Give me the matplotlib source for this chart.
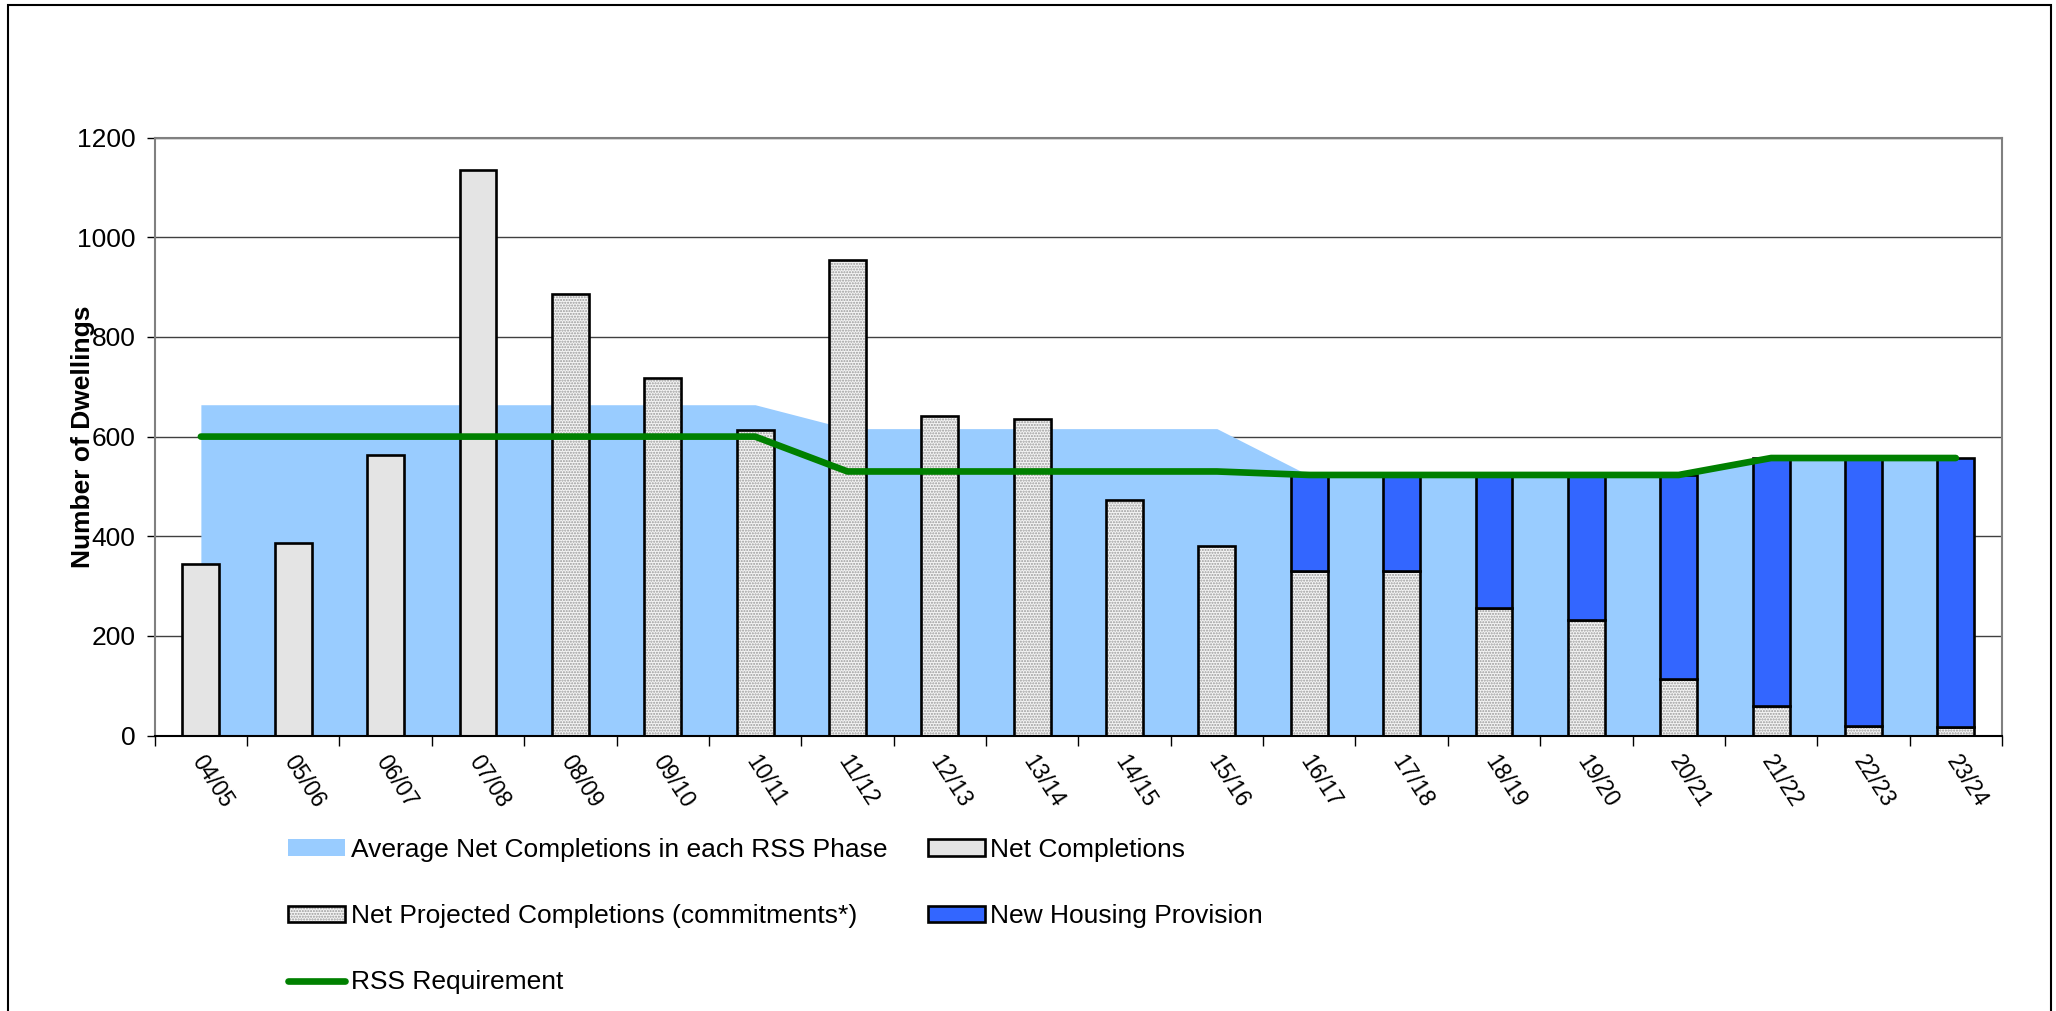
import matplotlib
matplotlib.use('Agg')
import matplotlib.pyplot as plt
import matplotlib.transforms as mtransforms
import numpy as np
from matplotlib.patches import Patch, Rectangle
from matplotlib.lines import Line2D
from matplotlib.legend_handler import HandlerTuple

plt.rcParams['font.family'] = ['Liberation Sans', 'DejaVu Sans']

years = ['04/05', '05/06', '06/07', '07/08', '08/09', '09/10', '10/11', '11/12',
         '12/13', '13/14', '14/15', '15/16', '16/17', '17/18', '18/19', '19/20',
         '20/21', '21/22', '22/23', '23/24']

# average net completions in each RSS phase (area)
avgPhase = [664, 664, 664, 664, 664, 664, 664,
            616, 616, 616, 616, 616,
            522, 522, 522, 522, 522,
            557, 557, 557]
# RSS requirement (line)
rssReq = [600, 600, 600, 600, 600, 600, 600,
          530, 530, 530, 530, 530,
          523, 523, 523, 523, 523,
          557, 557, 557]
# net completions 04/05 - 07/08
netComp = [345, 386, 563, 1135]
# net projected completions 08/09 - 23/24
netProj = [886, 718, 613, 954, 641, 636, 473, 381,
           330, 330, 255, 232, 113, 60, 19, 17]
# new housing provision 16/17 - 23/24
newHousing = [193, 193, 268, 291, 410, 497, 538, 540]

W, H = 2056, 1011
fig = plt.figure(figsize=(W / 100, H / 100), dpi=100)
ax = fig.add_axes([154.7 / W, 1 - 735.5 / H, (2002 - 154.7) / W, (735.5 - 137.7) / H])

x = np.arange(len(years))
xComp = x[:len(netComp)]
xProj = x[len(netComp):]
xNew = x[len(years) - len(newHousing):]
projUnderNew = netProj[len(netProj) - len(newHousing):]

ax.fill_between(x, avgPhase, 0, color='#99ccff', lw=0, zorder=1)

bw = 0.4
edge = 1.9
ax.bar(xComp, netComp, bw, color='#e4e4e4', edgecolor='black', lw=edge, zorder=2)
ax.bar(xProj, netProj, bw, color='#f4f4f4', edgecolor='#9a9a9a', hatch='......', lw=0, zorder=2)
ax.bar(xProj, netProj, bw, fill=False, edgecolor='black', lw=edge, zorder=2.1)
ax.bar(xNew, newHousing, bw, bottom=projUnderNew, color='#3366ff', edgecolor='black', lw=edge, zorder=2.2)

ax.plot(x, rssReq, color='#008000', lw=4.8, solid_capstyle='round', solid_joinstyle='round', zorder=3)

ax.set_xlim(-0.5, len(years) - 0.5)
ax.set_ylim(0, 1200)
ax.set_yticks(np.arange(0, 1201, 200))
ax.tick_params(axis='y', labelsize=19, length=6, width=1, pad=8, color='black')
ax.set_xticks(x)
ax.set_xticklabels(years, rotation=-57, ha='left', va='top', rotation_mode='anchor', fontsize=16.5)
ax.tick_params(axis='x', which='major', length=0, pad=11)
ax.set_xticks(np.arange(-0.5, len(years), 1), minor=True)
ax.tick_params(axis='x', which='minor', length=7, width=1, color='black')
shift = mtransforms.ScaledTranslation(5 / 100, 0, fig.dpi_scale_trans)
for lab in ax.get_xticklabels():
    lab.set_transform(lab.get_transform() + shift)

ax.set_axisbelow(True)
ax.yaxis.grid(True, color='#404040', lw=1)
for s in ['top', 'right', 'left']:
    ax.spines[s].set_color('#808080')
    ax.spines[s].set_linewidth(1.5)
ax.spines['bottom'].set_color('black')
ax.spines['bottom'].set_linewidth(1.5)

fig.text(83 / W, 1 - 437 / H, 'Number of Dwellings', rotation=90, ha='center', va='center',
         fontsize=19, fontweight='bold')

# legend
hAvg = Patch(facecolor='#99ccff', edgecolor='none')
hProj = (Patch(facecolor='#f4f4f4', edgecolor='#9a9a9a', hatch='......', lw=0),
         Patch(fill=False, edgecolor='black', lw=edge))
hRss = Line2D([], [], color='#008000', lw=4.8, solid_capstyle='round')
hComp = Patch(facecolor='#e4e4e4', edgecolor='black', lw=edge)
hNew = Patch(facecolor='#3366ff', edgecolor='black', lw=edge)
handles = [hAvg, hProj, hRss, hComp, hNew]
labels = ['Average Net Completions in each RSS Phase',
          'Net Projected Completions (commitments*)',
          'RSS Requirement',
          'Net Completions',
          'New Housing Provision']
fig.legend(handles, labels, loc='upper left', bbox_to_anchor=(288 / W, 1 - 838 / H),
           ncol=2, frameon=False, fontsize=19, handlelength=2.15, handleheight=0.6,
           handletextpad=0.22, labelspacing=1.6, columnspacing=1.55, borderpad=0,
           borderaxespad=0, handler_map={tuple: HandlerTuple(ndivide=1, pad=0)})

fig.patches.append(Rectangle((8 / W, -0.05), (2051 - 8) / W, 1.05 - 5 / H, transform=fig.transFigure,
                             fill=False, edgecolor='black', lw=1.5, clip_on=False))

fig.savefig('out.png', dpi=100)
